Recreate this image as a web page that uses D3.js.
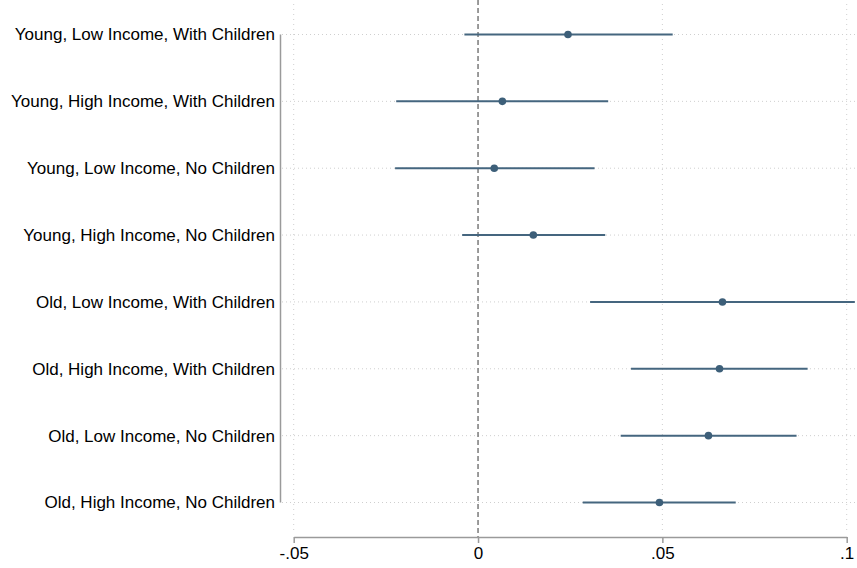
<!DOCTYPE html>
<html>
<head>
<meta charset="utf-8">
<script src="https://cdn.jsdelivr.net/npm/d3@7"></script>
<style>
  html, body { margin: 0; padding: 0; background: #fff; }
  svg { display: block; font-family: "Liberation Sans", Arial, sans-serif; }
</style>
</head>
<body>
<svg id="chart" width="857" height="568"></svg>
<script>
// Group labels, top to bottom
const categories = [
  "Young, Low Income, With Children",
  "Young, High Income, With Children",
  "Young, Low Income, No Children",
  "Young, High Income, No Children",
  "Old, Low Income, With Children",
  "Old, High Income, With Children",
  "Old, Low Income, No Children",
  "Old, High Income, No Children"
];
// Point estimates and confidence bounds
const estimates = [0.0244, 0.0066, 0.0044, 0.0150, 0.0663, 0.0655, 0.0625, 0.0492];
const lower     = [-0.0037, -0.0222, -0.0225, -0.0043, 0.0304, 0.0415, 0.0387, 0.0284];
const upper     = [0.0528, 0.0353, 0.0316, 0.0345, 0.1022, 0.0894, 0.0864, 0.0699];
// X axis ticks
const xTicks = [-0.05, 0, 0.05, 0.1];
const xTickLabels = ["-.05", "0", ".05", ".1"];

const svg = d3.select("#chart");
const W = 857, H = 568;

const x = d3.scaleLinear().domain([-0.05, 0.1]).range([293.7, 846.7]);
const y = d3.scalePoint().domain(categories).range([34.5, 502.5]);

const lineColor = "#45667f";
const dotColor = "#3d5f79";
const gridColor = "#cfcfcf";
const axisColor = "#9a9a9a";

// horizontal dotted gridlines at each group
svg.append("g").selectAll("line").data(categories).join("line")
  .attr("x1", 282).attr("x2", W)
  .attr("y1", d => y(d)).attr("y2", d => y(d))
  .attr("stroke", gridColor).attr("stroke-width", 1)
  .attr("stroke-dasharray", "1,3");

// vertical dotted gridlines at ticks
svg.append("g").selectAll("line").data(xTicks.filter(t => t !== 0)).join("line")
  .attr("x1", d => x(d)).attr("x2", d => x(d))
  .attr("y1", 4).attr("y2", 534)
  .attr("stroke", gridColor).attr("stroke-width", 1)
  .attr("stroke-dasharray", "1,4");

// reference line at zero
svg.append("line")
  .attr("x1", x(0)).attr("x2", x(0))
  .attr("y1", 0).attr("y2", 537)
  .attr("stroke", "#7a7a7a").attr("stroke-width", 1.5)
  .attr("stroke-dasharray", "5,3");

// confidence intervals
const rows = categories.map((c, i) => ({ c, est: estimates[i], lo: lower[i], hi: upper[i] }));
svg.append("g").selectAll("line").data(rows).join("line")
  .attr("x1", d => x(d.lo)).attr("x2", d => x(d.hi))
  .attr("y1", d => y(d.c)).attr("y2", d => y(d.c))
  .attr("stroke", lineColor).attr("stroke-width", 2);

// point estimates
svg.append("g").selectAll("circle").data(rows).join("circle")
  .attr("cx", d => x(d.est)).attr("cy", d => y(d.c))
  .attr("r", 3.8).attr("fill", dotColor);

// y axis: line and labels
svg.append("line")
  .attr("x1", 280.5).attr("x2", 280.5)
  .attr("y1", y(categories[0])).attr("y2", y(categories[categories.length - 1]))
  .attr("stroke", axisColor).attr("stroke-width", 1.5);
svg.append("g").selectAll("text").data(categories).join("text")
  .attr("x", 275).attr("y", d => y(d))
  .attr("dy", "0.35em")
  .attr("text-anchor", "end")
  .attr("font-size", 17)
  .attr("fill", "#000")
  .text(d => d);

// x axis
const xAxis = d3.axisBottom(x)
  .tickValues(xTicks)
  .tickFormat((d, i) => xTickLabels[i])
  .tickSize(6)
  .tickPadding(4)
  .tickSizeOuter(0);
const gx = svg.append("g").attr("transform", "translate(0,537)").call(xAxis);
gx.select(".domain").attr("stroke", axisColor).attr("stroke-width", 1.5);
gx.selectAll(".tick line").attr("stroke", axisColor).attr("stroke-width", 1.5);
gx.selectAll(".tick text")
  .attr("font-size", 17)
  .attr("font-family", "Liberation Sans, Arial, sans-serif")
  .attr("fill", "#000");
</script>
</body>
</html>
